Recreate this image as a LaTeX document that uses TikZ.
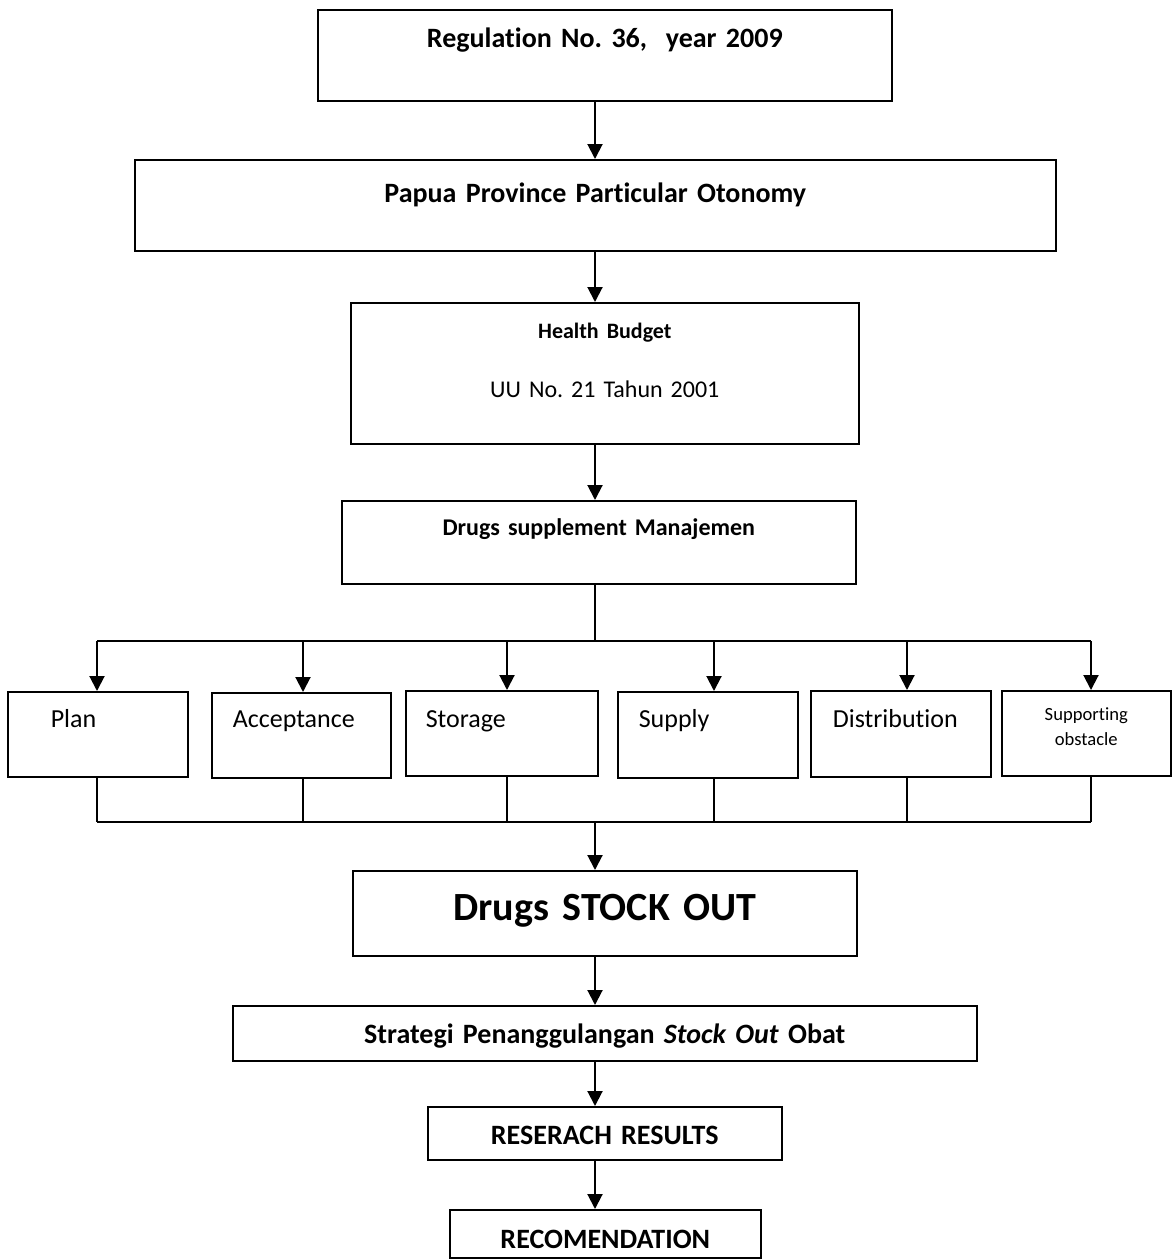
\documentclass[tikz,border=0pt]{standalone}
\usepackage{fontspec}
\setmainfont{Carlito}[Ligatures=NoCommon]
\frenchspacing
\usetikzlibrary{arrows.meta}

\begin{document}
\begin{tikzpicture}[x=1pt, y=-1pt,
  box/.style={draw, line width=1.6pt, inner sep=0pt, anchor=north west, align=center},
  big/.style={font=\fontsize{28}{34}\selectfont\bfseries},
  sub/.style={box, align=left, font=\fontsize{26}{31}\selectfont},
  arr/.style={line width=2pt, -{Triangle[length=15pt,width=15pt]}},
  bus/.style={line width=1.4pt}]
\useasboundingbox (0,0) rectangle (1171,1259);

%Nodes
\node[box, big, text width=574pt, text height=38pt, text depth=53pt]  (reg)   at (317,9)    {Regulation No. 36,~ year 2009};
\node[box, big, text width=921pt, text height=43pt, text depth=48pt]  (papua) at (134,159)  {Papua Province Particular Otonomy};
\node[box, font=\fontsize{24}{29}\selectfont, text width=508pt, text height=36pt, text depth=105pt] (hb) at (350,302)
    {{\fontsize{22}{26}\selectfont\bfseries Health Budget}\\[30pt]UU No. 21 Tahun 2001};
\node[box, font=\fontsize{24}{29}\selectfont\bfseries, text width=514pt, text height=35pt, text depth=48pt] (mgmt) at (341,500)
    {Drugs supplement Manajemen};

\node[sub, text width=180pt, text height=36pt, text depth=49pt] (plan) at (7,691)    {\hspace*{43pt}Plan};
\node[sub, text width=179pt, text height=35pt, text depth=50pt] (acc)  at (211,692)  {\hspace*{21pt}Acceptance};
\node[sub, text width=192pt, text height=37pt, text depth=48pt] (stor) at (405,690)  {\hspace*{20pt}Storage};
\node[sub, text width=180pt, text height=36pt, text depth=50pt] (supl) at (617,691)  {\hspace*{21pt}Supply};
\node[sub, text width=180pt, text height=37pt, text depth=49pt] (dist) at (810,690)  {\hspace*{22pt}Distribution};
\node[box, font=\fontsize{18.6}{25}\selectfont, text width=169pt, text height=30pt, text depth=55pt] (obst) at (1001,690)
    {Supporting\\obstacle};

\node[box, font=\fontsize{40}{48}\selectfont\bfseries, text width=504pt, text height=50pt, text depth=35pt] (stock) at (352,870)
    {Drugs STOCK OUT};
\node[box, big, text width=744pt, text height=38pt, text depth=17pt] (strat) at (232,1005)
    {Strategi Penanggulangan \textit{Stock Out} Obat};
\node[box, big, text width=354pt, text height=38pt, text depth=15pt] (res)   at (427,1106) {RESERACH RESULTS};
\node[box, big, text width=311pt, text height=39pt, text depth=9pt]  (rec)   at (449,1209) {RECOMENDATION};

%Lines
\coordinate (bt) at (595,641);
\coordinate (bb) at (595,822);
\draw[arr] (reg.south -| bt) -- (papua.north -| bt);
\draw[arr] (papua.south -| bt) -- (hb.north -| bt);
\draw[arr] (hb.south -| bt) -- (mgmt.north -| bt);
\draw[bus] (mgmt.south -| bt) -- (bt);
\foreach \n/\x in {plan/97, acc/303, stor/507, supl/714, dist/907, obst/1091}{
  \coordinate (t\n) at (\x,641);
  \draw[arr] (t\n) -- (t\n |- \n.north);
  \draw[bus] (\n.south -| t\n) -- (t\n |- bb);
}
\draw[bus] (tplan) -- (tobst);
\draw[bus] (tplan |- bb) -- (tobst |- bb);
\draw[arr] (bb) -- (stock.north -| bb);
\draw[arr] (stock.south -| bb) -- (strat.north -| bb);
\draw[arr] (strat.south -| bb) -- (res.north -| bb);
\draw[arr] (res.south -| bb) -- (rec.north -| bb);
\end{tikzpicture}
\end{document}
